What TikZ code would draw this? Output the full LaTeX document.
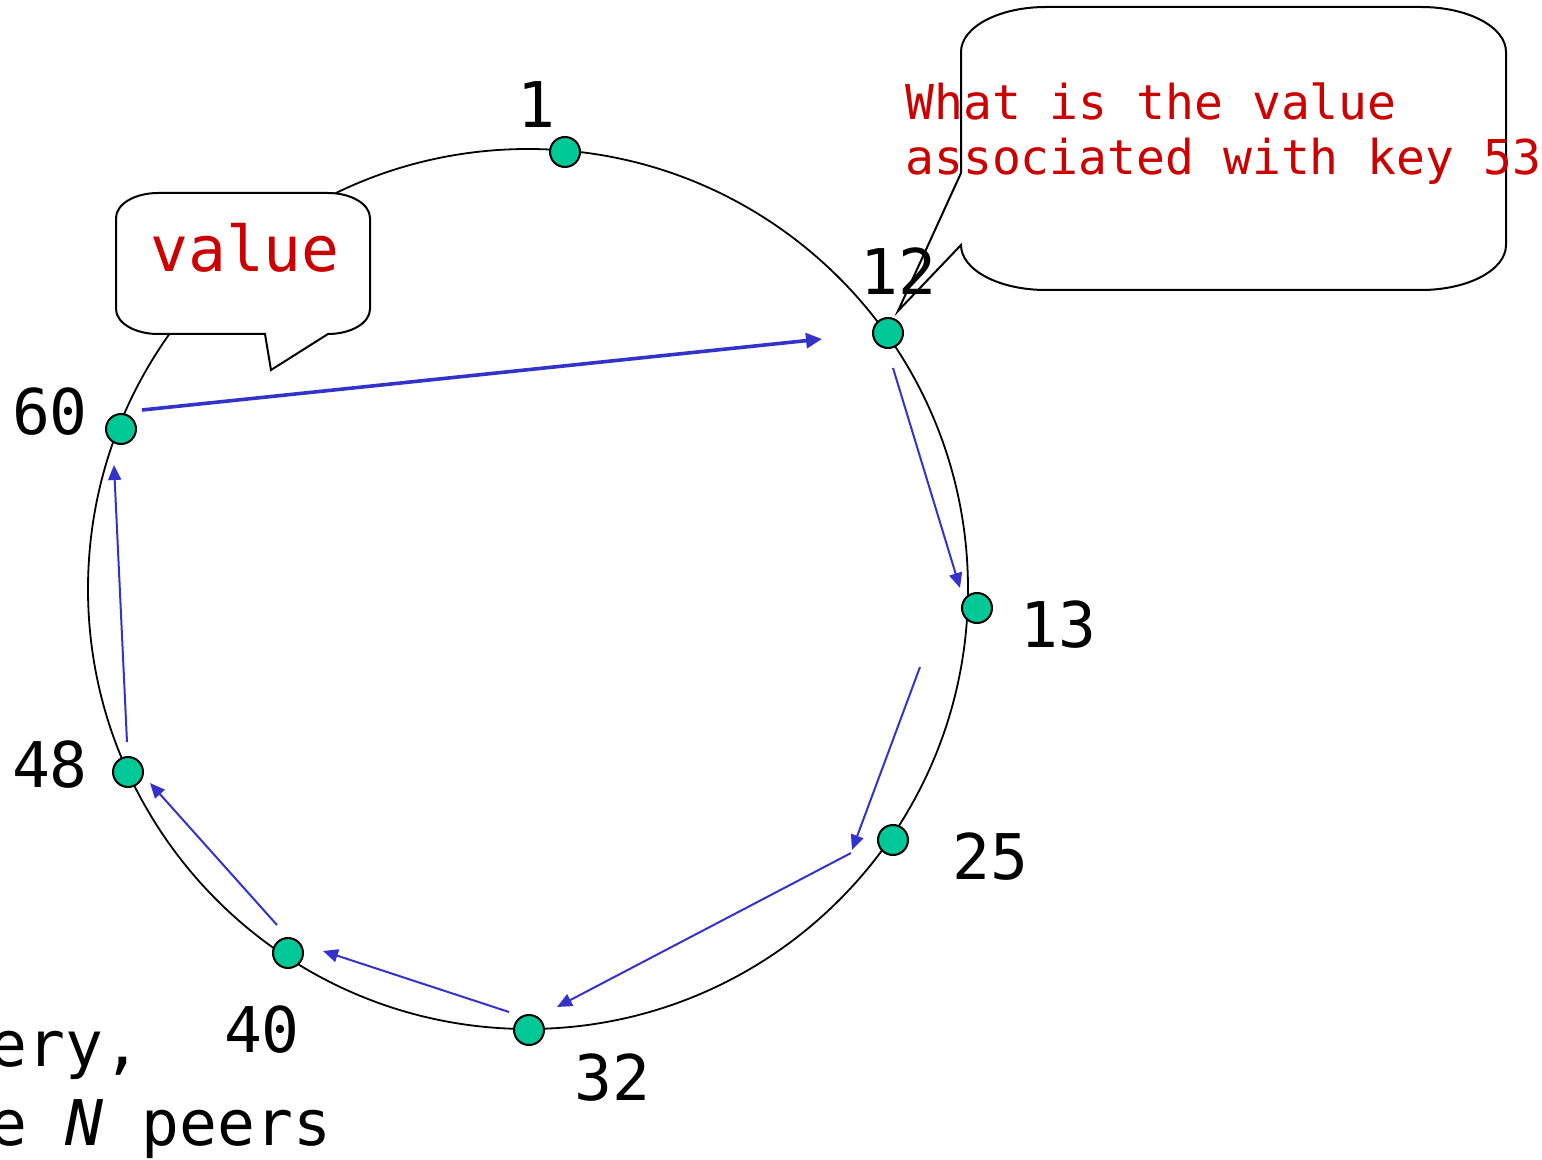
\documentclass[tikz,border=0pt]{standalone}
\usepackage{fontspec}
\setmainfont{DejaVu Sans Mono}
\usetikzlibrary{arrows.meta}
\definecolor{dotgreen}{RGB}{0,200,150}
\definecolor{arrowblue}{RGB}{51,51,204}
\definecolor{redtxt}{RGB}{204,0,0}
\tikzset{
  dot/.style={circle,draw=black,line width=1pt,fill=dotgreen,minimum size=15pt,inner sep=0pt},
  lbl/.style={inner sep=0pt,font=\fontsize{31.5}{36}\selectfont},
  bigtxt/.style={inner sep=0pt,font=\fontsize{31.5}{36}\selectfont},
  redline/.style={inner sep=0pt,text=redtxt,font=\fontsize{24}{27}\selectfont},
  hop/.style={draw=arrowblue,line width=1pt,-{Triangle[length=7.5pt,width=6.5pt]}},
  bighop/.style={draw=arrowblue,line width=1.8pt,-{Triangle[length=8pt,width=7.5pt]}},
  callout/.style={draw=black,line width=1pt}
}
\begin{document}
\begin{tikzpicture}[x=0.5pt,y=-0.5pt]
\useasboundingbox (0,0) rectangle (1542,1160);
% ring
\draw[line width=0.9pt] (528,589) circle[radius=440];
% big callout (no fill)
\draw[callout] (961,173) -- (961,52) .. controls (961,27) and (999,7) .. (1046,7)
  -- (1421,7) .. controls (1468,7) and (1506,27) .. (1506,52)
  -- (1506,245) .. controls (1506,270) and (1468,290) .. (1421,290)
  -- (1046,290) .. controls (999,290) and (961,270) .. (961,245)
  -- (898,311) -- cycle;
% value callout (white fill covers ring)
\draw[callout,fill=white] (116,218) .. controls (116,204) and (135,193) .. (158,193)
  -- (328,193) .. controls (351,193) and (370,204) .. (370,218)
  -- (370,309) .. controls (370,323) and (351,334) .. (328,334)
  -- (271,370) -- (265,334) -- (158,334)
  .. controls (135,334) and (116,323) .. (116,309) -- cycle;
\node[bigtxt,text=redtxt,anchor=base] (valtxt) at (245,272) {value};
% peers
\node[dot] (n1) at (565,152) {};
\node[dot] (n12) at (888,333) {};
\node[dot] (n13) at (977,608) {};
\node[dot] (n25) at (893,840) {};
\node[dot] (n32) at (529,1030) {};
\node[dot] (n40) at (288,953) {};
\node[dot] (n48) at (128,772) {};
\node[dot] (n60) at (121,429) {};
% labels
\node[lbl] (l1) at (536,105) {1};
\node[lbl] (l12) at (898,271) {12};
\node[lbl] (l13) at (1058,625) {13};
\node[lbl] (l25) at (990,857) {25};
\node[lbl] (l32) at (612,1078) {32};
\node[lbl] (l40) at (262,1030) {40};
\node[lbl] (l48) at (50,765) {48};
\node[lbl] (l60) at (50,412) {60};
% query text
\node[redline,anchor=base west] (q1) at (905,120) {What is the value};
\node[redline,anchor=base west] (q2) at (905,175) {associated with key 53};
% bottom text
\node[bigtxt,anchor=base west] (b1) at (-11,1066) {ery,};
\node[bigtxt,anchor=base west] (b2) at (-11,1145) {e \textit{N} peers};
% hop end points
\coordinate (a1s) at (142,410); \coordinate (a1e) at (822,339);
\coordinate (a2s) at (893,368); \coordinate (a2e) at (960,588);
\coordinate (a3s) at (920,667); \coordinate (a3e) at (852,850);
\coordinate (a4s) at (851,853); \coordinate (a4e) at (557,1007);
\coordinate (a5s) at (509,1012); \coordinate (a5e) at (323,951);
\coordinate (a6s) at (277,925); \coordinate (a6e) at (150,783);
\coordinate (a7s) at (127,742); \coordinate (a7e) at (114,465);
\draw[bighop] (a1s) -- (a1e);
\draw[hop] (a2s) -- (a2e);
\draw[hop] (a3s) -- (a3e);
\draw[hop] (a4s) -- (a4e);
\draw[hop] (a5s) -- (a5e);
\draw[hop] (a6s) -- (a6e);
\draw[hop] (a7s) -- (a7e);
\end{tikzpicture}
\end{document}
